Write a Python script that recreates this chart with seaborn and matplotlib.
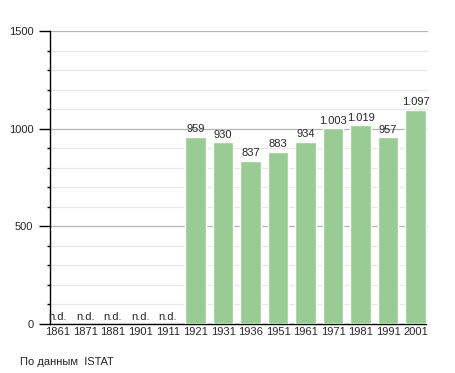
import numpy as np
import pandas as pd
import matplotlib
matplotlib.use("Agg")
import matplotlib.pyplot as plt
from matplotlib.ticker import MultipleLocator
import seaborn as sns

years = ["1861", "1871", "1881", "1901", "1911", "1921", "1931", "1936",
         "1951", "1961", "1971", "1981", "1991", "2001"]
population = [np.nan, np.nan, np.nan, np.nan, np.nan, 959, 930, 837,
              883, 934, 1003, 1019, 957, 1097]
source_note = "По данным  ISTAT"

sns.set_style("white")
plt.rcParams['font.family'] = ['Liberation Sans', 'DejaVu Sans']

df = pd.DataFrame({"year": years, "pop": population})

fig = plt.figure(figsize=(4.55, 3.73), dpi=100)
ax = fig.add_axes([50/455, 1 - 324/373, (428-50)/455, (324-31)/373])

sns.barplot(data=df, x="year", y="pop", order=years, color="#98cc94",
            saturation=1, width=0.74, ax=ax, zorder=3)

ax.set_ylim(0, 1500)
ax.set_xlim(-0.29, 13.45)
ax.yaxis.set_major_locator(MultipleLocator(500))
ax.yaxis.set_minor_locator(MultipleLocator(100))
ax.grid(which="major", axis="y", color="#b4b4b4", linewidth=0.9, zorder=0)
ax.grid(which="minor", axis="y", color="#e8e8e8", linewidth=0.9, zorder=0)
ax.set_axisbelow(True)

for s in ["top", "right"]:
    ax.spines[s].set_visible(False)
ax.spines["left"].set_color("black")
ax.spines["bottom"].set_color("black")
ax.spines["left"].set_linewidth(1)
ax.spines["bottom"].set_linewidth(1)
ax.spines["bottom"].set_bounds(-0.29, 13.37)

fs = 8
ax.tick_params(axis="y", which="major", direction="out", length=8, width=1,
               color="black", labelsize=fs, pad=4, left=True)
ax.tick_params(axis="y", which="minor", direction="out", length=2.5, width=1,
               color="black", left=True)
ax.tick_params(axis="x", length=0, labelsize=fs, pad=2)
ax.set_xlabel("")
ax.set_ylabel("")

for i, v in enumerate(population):
    if np.isnan(v):
        ax.text(i, 8, "n.d.", ha="center", va="bottom", fontsize=fs, zorder=4)
    else:
        lab = f"{int(v):,}".replace(",", ".")
        ax.text(i, v + 12, lab, ha="center", va="bottom", fontsize=fs, zorder=4)

fig.text(20/455, 1 - 362/373, source_note, fontsize=fs, ha="left", va="center")

fig.savefig("out.png", dpi=100)
